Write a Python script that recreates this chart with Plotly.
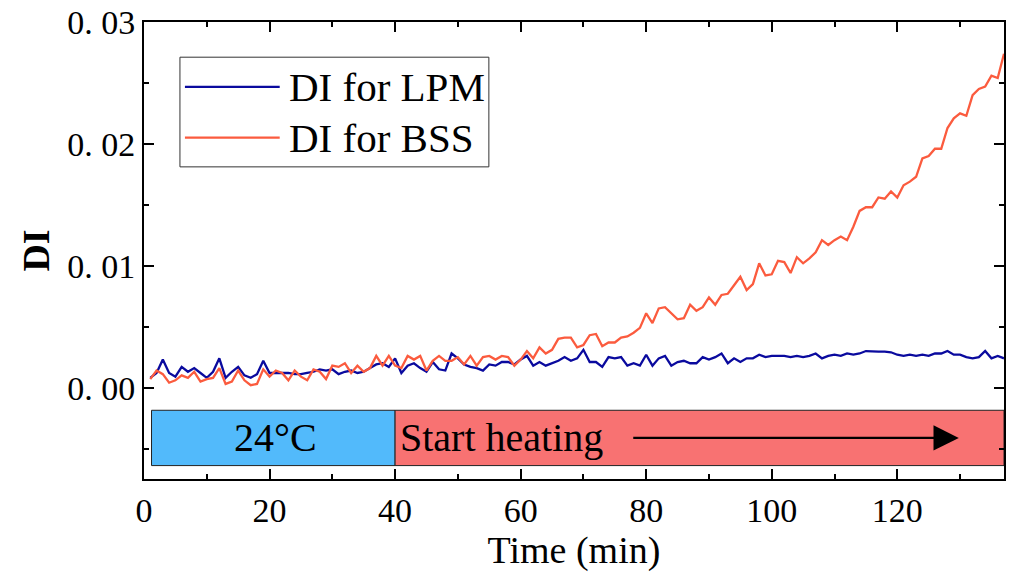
import plotly.graph_objects as go

# ---- data (DI values in units of 1e-3), sampled each minute ----
time_min = list(range(1, 138))

di_lpm_e3 = [
    0.8, 1.2, 2.3, 1.2, 0.9, 1.7, 1.3, 1.6, 1.2, 0.8,
    1.3, 2.4, 0.8, 1.3, 1.7, 1.0, 0.8, 1.1, 2.2, 1.2,
    1.2, 1.2, 1.2, 1.1, 1.1, 1.2, 1.3, 1.5, 1.4, 1.5,
    1.1, 1.3, 1.4, 1.2, 1.3, 1.6, 1.9, 2.0, 1.7, 2.4,
    1.2, 1.8, 2.0, 1.6, 1.3, 2.1, 1.5, 1.4, 2.8, 2.4,
    1.9, 1.7, 1.6, 1.4, 1.9, 1.8, 2.1, 2.1, 1.9, 2.3,
    2.6, 1.8, 2.1, 1.8, 2.0, 2.2, 2.5, 2.2, 2.4, 3.1,
    2.1, 2.1, 1.7, 2.5, 2.4, 2.5, 1.8, 2.0, 1.8, 2.7,
    1.8, 2.4, 2.6, 1.8, 2.1, 2.2, 2.0, 2.0, 2.5, 2.3,
    2.5, 2.8, 2.0, 2.4, 2.1, 2.4, 2.4, 2.7, 2.5, 2.6,
    2.6, 2.6, 2.5, 2.6, 2.5, 2.6, 2.8, 2.4, 2.6, 2.7,
    2.6, 2.8, 2.7, 2.8, 3.0, 2.95, 2.95, 2.95, 2.9, 2.7,
    2.6, 2.7, 2.6, 2.7, 2.6, 2.8, 2.8, 3.0, 2.7, 2.7,
    2.5, 2.4, 2.5, 3.0, 2.4, 2.6, 2.4,
]

di_bss_e3 = [
    0.7, 1.4, 1.1, 0.4, 0.6, 1.0, 0.8, 1.3, 0.5, 0.7,
    0.8, 1.6, 0.3, 0.5, 1.4, 0.6, 0.2, 0.3, 1.5, 0.9,
    1.4, 1.2, 0.6, 1.4, 0.9, 0.6, 1.5, 1.3, 0.7, 1.8,
    1.7, 2.0, 1.2, 1.8, 1.3, 1.6, 2.6, 1.8, 2.6, 1.8,
    1.6, 2.6, 2.3, 2.6, 1.4, 2.2, 2.6, 2.2, 2.2, 2.5,
    1.9, 2.6, 1.8, 2.5, 2.6, 2.3, 2.6, 2.5, 1.8, 2.3,
    3.0, 2.4, 3.3, 2.8, 3.1, 4.0, 4.1, 4.1, 3.3, 3.5,
    4.3, 4.4, 3.4, 3.7, 3.7, 4.1, 4.2, 4.5, 4.9, 6.1,
    5.3, 6.5, 6.6, 6.1, 5.6, 5.7, 6.8, 6.3, 6.6, 7.4,
    6.8, 7.6, 7.7, 8.4, 9.1, 8.0, 8.5, 10.2, 9.2, 9.3,
    10.4, 10.3, 9.4, 10.7, 10.2, 10.6, 11.1, 12.1, 11.7, 12.1,
    12.4, 12.1, 13.2, 14.5, 14.8, 14.8, 15.6, 15.5, 16.1, 15.6,
    16.6, 16.9, 17.3, 18.8, 19.0, 19.6, 19.6, 21.3, 22.1, 22.5,
    22.3, 24.0, 24.5, 24.7, 25.6, 25.4, 27.4,
]

series_names = ["DI for LPM", "DI for BSS"]
y_tick_vals = [0.0, 0.01, 0.02, 0.03]
y_tick_text = ["0. 00", "0. 01", "0. 02", "0. 03"]
x_tick_vals = [0, 20, 40, 60, 80, 100, 120]
phase_labels = ["24°C", "Start heating"]
phase_edges = [1.2, 40, 137]

di_lpm = [v * 1e-3 for v in di_lpm_e3]
di_bss = [v * 1e-3 for v in di_bss_e3]

SERIF = "Liberation Serif"
BLUE_LINE = "#0A0A9E"
RED_LINE = "#FB5B3E"

fig = go.Figure()

# phase bars (behind)
band_y0, band_y1 = -0.0064, -0.00186
fig.add_shape(type="rect", xref="x", yref="y", x0=phase_edges[0], x1=phase_edges[1],
              y0=band_y0, y1=band_y1, fillcolor="#52BAFB",
              line=dict(color="#222222", width=1), layer="below")
fig.add_shape(type="rect", xref="x", yref="y", x0=phase_edges[1], x1=phase_edges[2],
              y0=band_y0, y1=band_y1, fillcolor="#F87272",
              line=dict(color="#222222", width=1), layer="below")

fig.add_trace(go.Scatter(x=time_min, y=di_lpm, mode="lines", name=series_names[0],
                         line=dict(color=BLUE_LINE, width=2.3), showlegend=False))
fig.add_trace(go.Scatter(x=time_min, y=di_bss, mode="lines", name=series_names[1],
                         line=dict(color=RED_LINE, width=2.3), showlegend=False))

# phase texts
fig.add_annotation(x=(phase_edges[0] + phase_edges[1]) / 2 + 0.4, y=(band_y0 + band_y1) / 2,
                   xref="x", yref="y", text=phase_labels[0], showarrow=False,
                   font=dict(family=SERIF, size=40, color="black"))
fig.add_annotation(x=phase_edges[1] + 0.4, y=(band_y0 + band_y1) / 2,
                   xref="x", yref="y", text=phase_labels[1], showarrow=False,
                   xanchor="left", font=dict(family=SERIF, size=40, color="black"))
# arrow
fig.add_annotation(x=129.8, y=(band_y0 + band_y1) / 2, ax=77.7, ay=(band_y0 + band_y1) / 2,
                   xref="x", yref="y", axref="x", ayref="y", text="", showarrow=True,
                   arrowhead=2, arrowsize=2.3, arrowwidth=2.2, arrowcolor="black")

# manual legend (paper coords)
fig.add_shape(type="rect", xref="paper", yref="paper", x0=0.0418, x1=0.401, y0=0.683, y1=0.923,
              line=dict(color="#333333", width=1), fillcolor="white")
legend_rows = [(0.858, BLUE_LINE, series_names[0]), (0.7468, RED_LINE, series_names[1])]
for yy, col, name in legend_rows:
    fig.add_shape(type="line", xref="paper", yref="paper", x0=0.0476, x1=0.1578, y0=yy, y1=yy,
                  line=dict(color=col, width=2.3))
    fig.add_annotation(x=0.166, y=yy, xref="paper", yref="paper", text=name, showarrow=False,
                       xanchor="left", yanchor="middle",
                       font=dict(family=SERIF, size=41, color="black"))

fig.update_xaxes(range=[0, 137], tickvals=x_tick_vals, ticks="inside", ticklen=10, tickwidth=2,
                 tickcolor="black",
                 minor=dict(dtick=10, tick0=0, ticks="inside", ticklen=5, tickwidth=1.5, tickcolor="black"),
                 showline=True, linewidth=2, linecolor="black", mirror="allticks",
                 showgrid=False, zeroline=False,
                 tickfont=dict(family=SERIF, size=34, color="black"),
                 title=dict(text="Time (min)", font=dict(family=SERIF, size=38, color="black"), standoff=8))
fig.update_yaxes(range=[-0.0075, 0.03], tickvals=y_tick_vals, ticktext=y_tick_text,
                 ticks="inside", ticklen=10, tickwidth=2, tickcolor="black",
                 minor=dict(dtick=0.005, tick0=0, ticks="inside", ticklen=5, tickwidth=1.5, tickcolor="black"),
                 showline=True, linewidth=2, linecolor="black", mirror="allticks",
                 showgrid=False, zeroline=False,
                 tickfont=dict(family=SERIF, size=34, color="black"),
                 title=dict(text="<b>DI</b>", font=dict(family=SERIF, size=38, color="black"), standoff=6))

fig.update_layout(width=1010, height=573, margin=dict(l=144, r=4, t=22, b=94),
                  plot_bgcolor="white", paper_bgcolor="white", showlegend=False)

fig.write_html("out.html")
